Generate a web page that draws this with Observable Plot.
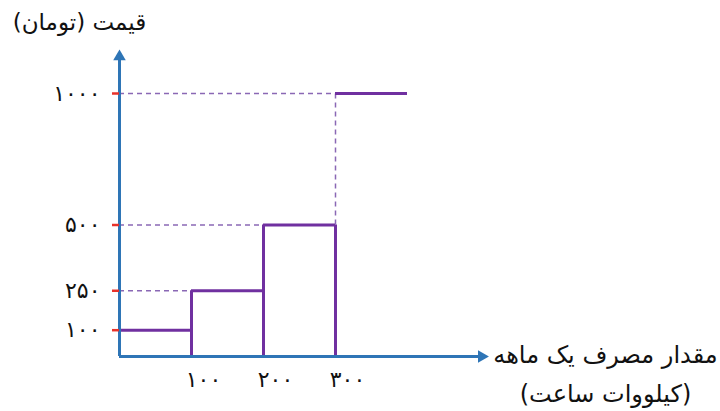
<!DOCTYPE html>
<html>
<head>
<meta charset="utf-8">
<script src="https://cdn.jsdelivr.net/npm/d3@7"></script>
<script src="https://cdn.jsdelivr.net/npm/@observablehq/plot@0.6"></script>
<style>
  html, body { margin: 0; padding: 0; background: #fff; }
</style>
</head>
<body>
<div id="chart"></div>
<script>
// Tier data (kWh ranges and price per tier)
const tierStart = [0, 100, 200, 300];
const tierEnd = [100, 200, 300, 400];
const tierPrice = [100, 250, 500, 1000];

// Tick values and Persian labels
const xTicks = [100, 200, 300];
const xTickLabels = ["۱۰۰", "۲۰۰", "۳۰۰"];
const yTicks = [100, 250, 500, 1000];
const yTickLabels = ["۱۰۰", "۲۵۰", "۵۰۰", "۱۰۰۰"];

// Axis titles
const yTitle = "\u200Fقیمت (تومان)\u200F";
const xTitle1 = "\u200Fمقدار مصرف یک ماهه\u200F";
const xTitle2 = "\u200F(کیلووات ساعت)\u200F";

// Axis extents (arrow positions)
const xAxisEnd = 503;
const yAxisEnd = 1140;

const tiers = tierStart.map((s, i) => ({start: s, end: tierEnd[i], price: tierPrice[i], prev: i > 0 ? tierPrice[i - 1] : 0, i}));

const blue = "#2e75b6";
const purple = "#7030a0";
const dashPurple = "#8a68b5";
const red = "#e8322a";

const chart = Plot.plot({
  width: 720,
  height: 411,
  marginLeft: 119,
  marginRight: 313,
  marginTop: 93,
  marginBottom: 55,
  x: {domain: [0, 400], axis: null},
  y: {domain: [0, 1000], axis: null},
  style: {fontFamily: "DejaVu Sans", background: "#fff", overflow: "visible"},
  marks: [
    // dashed guide lines
    Plot.ruleY(tiers.filter(d => d.i > 0), {y: "price", x1: 0, x2: "start", stroke: dashPurple, strokeWidth: 1.5, strokeDasharray: "5,4"}),
    Plot.ruleX(tiers.filter(d => d.i === 3), {x: "start", y1: "prev", y2: "price", stroke: dashPurple, strokeWidth: 1.5, strokeDasharray: "5,4"}),
    // step verticals (bar edges for tiers 1-3)
    Plot.ruleX(tiers.filter(d => d.i < 3), {x: "end", y1: 0, y2: "price", stroke: purple, strokeWidth: 3}),
    Plot.ruleX(tiers.filter(d => d.i > 0 && d.i < 3), {x: "start", y1: 0, y2: "price", stroke: purple, strokeWidth: 3}),
    // step horizontals
    Plot.ruleY(tiers, {y: "price", x1: "start", x2: "end", stroke: purple, strokeWidth: 3}),
    // axes lines
    Plot.ruleX([0], {y1: 0, y2: yAxisEnd, stroke: blue, strokeWidth: 3}),
    Plot.ruleY([0], {x1: 0, x2: xAxisEnd, stroke: blue, strokeWidth: 3}),
    // arrowheads
    Plot.dot([{x: 0, y: yAxisEnd}], {x: "x", y: "y", symbol: "triangle2", r: 6, fill: blue, rotate: 0}),
    Plot.dot([{x: xAxisEnd, y: 0}], {x: "x", y: "y", symbol: "triangle2", r: 6, fill: blue, rotate: 90}),
    // y ticks & labels
    Plot.axisY({ticks: yTicks, tickSize: 7, tickPadding: 12, stroke: red, strokeWidth: 2.5, fill: "#111", fontSize: 22,
      tickFormat: d => yTickLabels[yTicks.indexOf(d)]}),
    // x tick labels
    Plot.axisX({ticks: xTicks, tickSize: 0, tickPadding: 15, fill: "#111", fontSize: 22, dx: 12,
      tickFormat: d => xTickLabels[xTicks.indexOf(d)]}),
    // titles
    Plot.text([yTitle], {text: d => d, frameAnchor: "top-left", dx: -40, dy: -71, textAnchor: "middle", lineAnchor: "middle", fontSize: 23, fill: "#111"}),
    Plot.text([xTitle1], {text: d => d, frameAnchor: "bottom-right", dx: 198, dy: -1, textAnchor: "middle", lineAnchor: "middle", fontSize: 24, fill: "#111"}),
    Plot.text([xTitle2], {text: d => d, frameAnchor: "bottom-right", dx: 198, dy: 38, textAnchor: "middle", lineAnchor: "middle", fontSize: 24, fill: "#111"})
  ]
});
document.getElementById("chart").appendChild(chart);
</script>
</body>
</html>
